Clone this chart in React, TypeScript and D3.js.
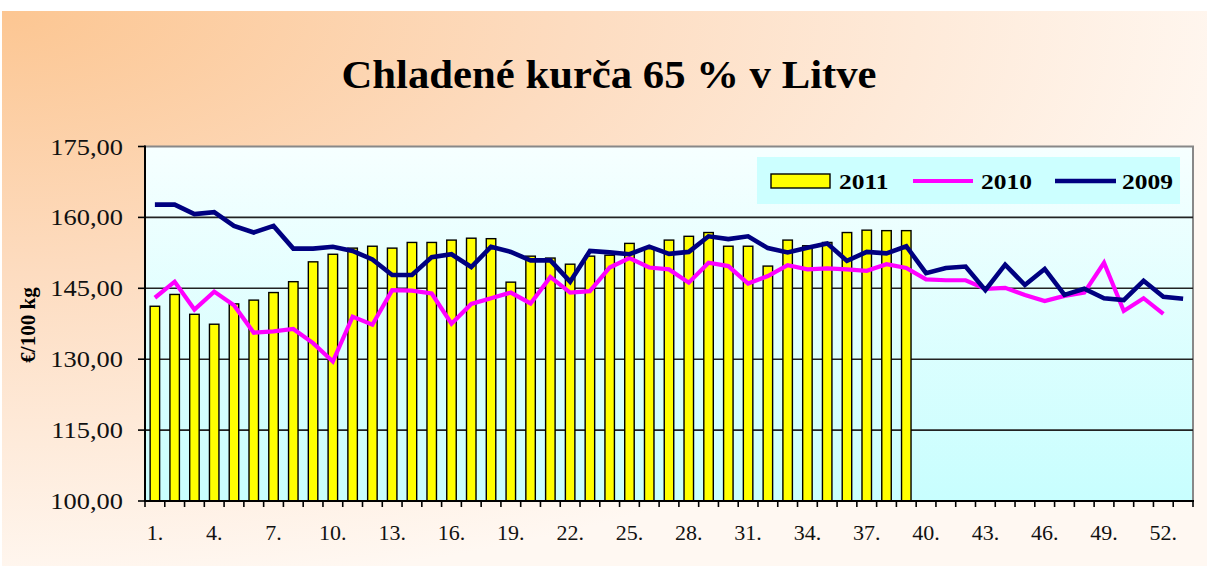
import React from "react";
import * as d3 from "d3";

const weeks = [1,2,3,4,5,6,7,8,9,10,11,12,13,14,15,16,17,18,19,20,21,22,23,24,25,26,27,28,29,30,31,32,33,34,35,36,37,38,39,40,41,42,43,44,45,46,47,48,49,50,51,52,53];
const xTickWeeks = [1,4,7,10,13,16,19,22,25,28,31,34,37,40,43,46,49,52];
const yTicks = [100,115,130,145,160,175];

const s2011 = [141.2,143.7,139.5,137.4,141.7,142.5,144.1,146.4,150.6,152.2,153.5,153.9,153.5,154.7,154.7,155.2,155.6,155.5,146.3,151.8,151.4,150.1,151.8,152.0,154.5,153.6,155.2,156.0,156.8,153.9,153.9,149.7,155.2,154.0,154.7,156.8,157.3,157.2,157.2];
const s2010 = [143.0,146.4,140.5,144.3,141.4,135.6,135.9,136.4,133.4,129.5,139.0,137.3,144.6,144.5,143.9,137.5,141.7,142.9,144.1,141.8,147.4,144.1,144.4,149.4,151.4,149.4,149.0,146.2,150.4,149.7,146.0,147.6,149.9,149.0,149.2,149.0,148.7,150.1,149.3,146.9,146.7,146.7,144.9,145.1,143.6,142.3,143.4,144.1,150.4,140.2,142.9,139.6];
const s2009 = [162.7,162.7,160.7,161.1,158.2,156.8,158.2,153.4,153.4,153.8,152.9,151.1,147.8,147.8,151.6,152.2,149.5,153.8,152.7,150.9,150.9,146.4,152.9,152.6,152.2,153.8,152.3,152.7,156.0,155.4,156.0,153.5,152.6,153.6,154.5,150.8,152.7,152.4,153.9,148.2,149.3,149.6,144.6,150.0,145.7,149.1,143.6,144.9,142.9,142.5,146.6,143.2,142.8];

const title = "Chladené kurča 65 % v Litve";
const yTitle = "€/100 kg";

const W = 1207, H = 566;
const L = 145, R = 1193, T = 146.5, B = 501;
const serif = "'Liberation Serif', 'Times New Roman', serif";

export default function App() {
  const x = d3.scaleBand<number>().domain(weeks).range([L, R]).paddingInner(0).paddingOuter(0);
  const y = d3.scaleLinear().domain([100, 175]).range([B, T]);
  const bw = x.bandwidth() * 0.48;
  const cx = (w: number) => (x(w) as number) + x.bandwidth() / 2;
  const line = d3.line<number>().x((_, i) => cx(weeks[i])).y((v) => y(v));
  const fmt = (v: number) => d3.format(".2f")(v).replace(".", ",");

  return (
    <svg width={W} height={H} style={{ position: "absolute", left: 0, top: 0 }}>
      <defs>
        <radialGradient id="bg" cx="0" cy="0" r="1.05" fx="0" fy="0" gradientUnits="objectBoundingBox">
          <stop offset="0" stopColor="#FCC692" />
          <stop offset="0.45" stopColor="#FDDCC0" />
          <stop offset="1" stopColor="#FFF8F2" />
        </radialGradient>
        <linearGradient id="plotbg" x1="0" y1="0" x2="0" y2="1">
          <stop offset="0" stopColor="#F6FFFF" />
          <stop offset="1" stopColor="#C8FEFE" />
        </linearGradient>
      </defs>
      <rect x={0} y={0} width={W} height={H} fill="#fff" />
      <rect x={2} y={11} width={W - 2} height={H - 11} fill="url(#bg)" />
      <text transform="translate(609,88) scale(1.068,1)" textAnchor="middle" fontFamily={serif} fontWeight="bold" fontSize={40}>{title}</text>

      <rect x={L} y={T} width={R - L} height={B - T} fill="url(#plotbg)" stroke="#888" strokeWidth={2} />
      {yTicks.filter((t) => t > 100 && t < 175).map((t) => (
        <line key={t} x1={L} x2={R} y1={y(t)} y2={y(t)} stroke="#222" strokeWidth={1.6} />
      ))}

      {s2011.map((v, i) => (
        <rect key={i} x={cx(weeks[i]) - bw / 2} y={y(v)} width={bw} height={B - y(v)} fill="#FFFF00" stroke="#000" strokeWidth={1.4} />
      ))}

      <path d={line(s2010) || ""} fill="none" stroke="#FF00FF" strokeWidth={4.2} />
      <path d={line(s2009) || ""} fill="none" stroke="#000080" strokeWidth={4.6} />

      {/* axes */}
      <line x1={L} x2={L} y1={T - 1} y2={B + 1} stroke="#000" strokeWidth={2} />
      <line x1={L - 1} x2={R + 1} y1={B} y2={B} stroke="#000" strokeWidth={2} />
      {yTicks.map((t) => (
        <g key={t}>
          <line x1={L - 7} x2={L} y1={y(t)} y2={y(t)} stroke="#000" strokeWidth={1.6} />
          <text transform={`translate(123,${y(t) + 8}) scale(1.15,1)`} textAnchor="end" fontFamily={serif} fontSize={23} fill="#111">{fmt(t)}</text>
        </g>
      ))}
      {weeks.concat([54]).map((w, i) => {
        const xx = L + i * x.bandwidth();
        return <line key={i} x1={xx} x2={xx} y1={B} y2={B + 6} stroke="#000" strokeWidth={1.6} />;
      })}
      {xTickWeeks.map((w) => (
        <text key={w} x={cx(w)} y={540} textAnchor="middle" fontFamily={serif} fontSize={22} fill="#111">{w + "."}</text>
      ))}
      <text transform={`translate(35,${325}) rotate(-90)`} textAnchor="middle" fontFamily={serif} fontWeight="bold" fontSize={21}>{yTitle}</text>

      {/* legend */}
      <rect x={757} y={157} width={423} height={47} fill="#CCFFFF" />
      <rect x={771} y={174} width={59} height={14} fill="#FFFF00" stroke="#000" strokeWidth={1.4} />
      <text transform="translate(839,189) scale(1.16,1)" fontFamily={serif} fontWeight="bold" fontSize={22}>2011</text>
      <line x1={913} x2={973} y1={181} y2={181} stroke="#FF00FF" strokeWidth={4.2} />
      <text transform="translate(981,189) scale(1.16,1)" fontFamily={serif} fontWeight="bold" fontSize={22}>2010</text>
      <line x1={1055} x2={1116} y1={181} y2={181} stroke="#000080" strokeWidth={4.6} />
      <text transform="translate(1122,189) scale(1.16,1)" fontFamily={serif} fontWeight="bold" fontSize={22}>2009</text>
    </svg>
  );
}
